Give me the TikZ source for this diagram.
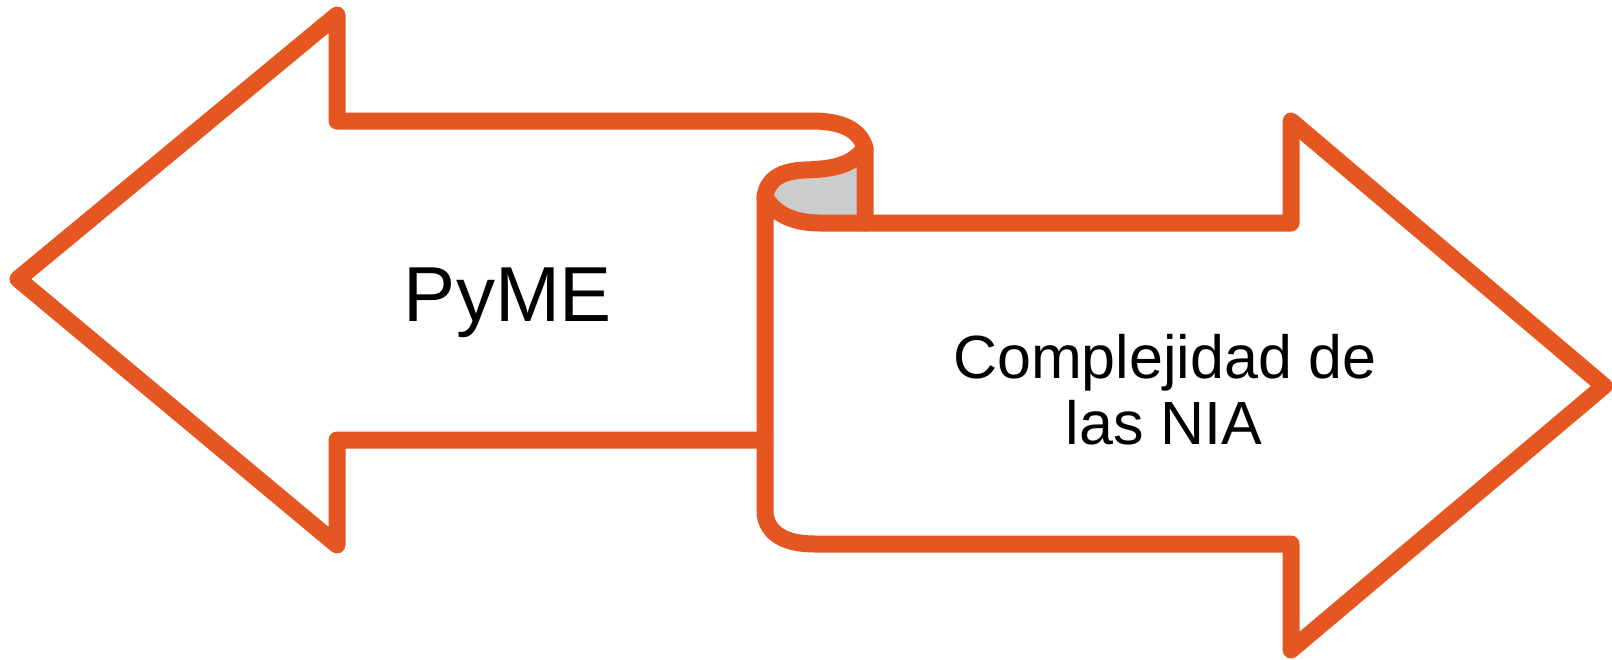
\documentclass[tikz,border=0pt]{standalone}
\usepackage{fontspec}
\setmainfont{Liberation Sans}
\definecolor{arroworange}{HTML}{E55621}
\definecolor{curlgrey}{HTML}{CCCCCC}
\tikzset{
  outline/.style={draw=arroworange, line width=8.5pt, line join=round, line cap=round},
  bigtext/.style={inner sep=0pt, anchor=base, font=\fontsize{39}{44}\selectfont},
  midtext/.style={inner sep=0pt, anchor=base, font=\fontsize{30.5}{33}\selectfont}
}
\begin{document}
\begin{tikzpicture}[x=0.5pt, y=-0.5pt]
\useasboundingbox (0,0) rectangle (1612,659);
% key points
\coordinate (ltip) at (18,279);
\coordinate (lht) at (337,15);
\coordinate (lhb) at (337,545);
\coordinate (lst) at (337,121);
\coordinate (lsb) at (337,440);
\coordinate (cr) at (865,148);
\coordinate (crb) at (865,223);
\coordinate (cl) at (765,197);
\coordinate (vjoin) at (765,440);
\coordinate (vb) at (765,514);
\coordinate (rsb) at (1291,544);
\coordinate (rhb) at (1291,650);
\coordinate (rtip) at (1604,386);
\coordinate (rht) at (1291,121);
\coordinate (rst) at (1291,223);
% grey curl
\fill[curlgrey] (cr) .. controls (852,165) and (835,169) .. (805,170)
   .. controls (780,171) and (767,180) .. (cl)
   .. controls (775,215) and (795,223) .. (820,223) -- (crb) -- cycle;
% left arrow
\draw[outline] (vjoin) -- (lsb) -- (lhb) -- (ltip) -- (lht) -- (lst) -- (812,121)
   .. controls (842,121) and (860,130) .. (cr) -- (crb);
\draw[outline] (cr) .. controls (852,165) and (835,169) .. (805,170)
   .. controls (780,171) and (767,180) .. (cl);
% right arrow
\draw[outline] (cl) -- (vb) .. controls (768,534) and (785,544) .. (815,544)
   -- (rsb) -- (rhb) -- (rtip) -- (rht) -- (rst) -- (crb) -- (820,223)
   .. controls (795,223) and (775,215) .. (cl);
% texts
\node[bigtext] (pyme) at (508,321) {PyME};
\node[midtext] (nia1) at (1165,378) {Complejidad de};
\node[midtext] (nia2) at (1164,444) {las NIA};
\end{tikzpicture}
\end{document}
